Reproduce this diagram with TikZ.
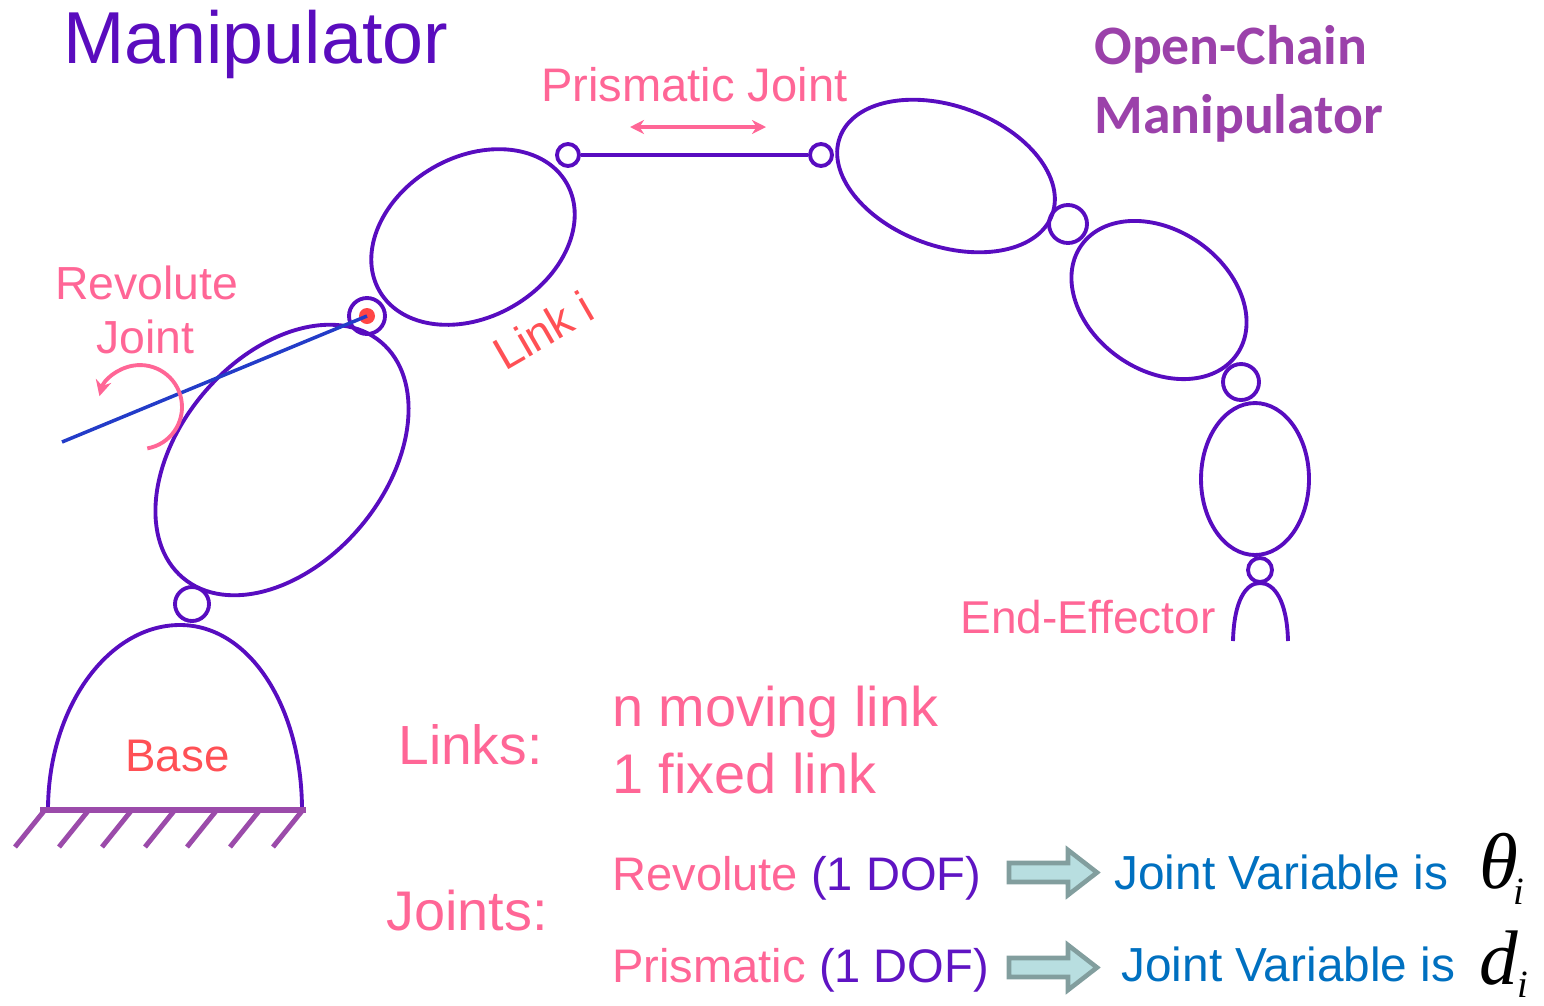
\documentclass[tikz,border=0pt]{standalone}
\usepackage{fontspec}
\setmainfont{Liberation Sans}
\newfontfamily\calibfont{Carlito}
\newfontfamily\serifit{Liberation Serif}
\usetikzlibrary{shapes.geometric,arrows.meta}

\definecolor{linkc}{RGB}{88,12,192}
\definecolor{titlec}{RGB}{90,12,190}
\definecolor{openc}{RGB}{155,65,170}
\definecolor{pinkc}{RGB}{255,102,150}
\definecolor{redc}{RGB}{255,80,85}
\definecolor{dofc}{RGB}{95,20,195}
\definecolor{bluec}{RGB}{0,112,192}
\definecolor{axisc}{RGB}{35,60,200}
\definecolor{groundc}{RGB}{155,75,170}
\definecolor{dotc}{RGB}{255,70,70}
\definecolor{arrfill}{RGB}{184,222,224}
\definecolor{arrdraw}{RGB}{130,158,158}

\newcommand{\fs}[1]{\fontsize{#1}{#1}\selectfont}

\begin{document}
\begin{tikzpicture}[x=0.02cm,y=-0.02cm,
  linkpart/.style={draw=linkc, line width=2.2pt, ellipse, inner sep=0pt},
  jointpart/.style={draw=linkc, line width=2.2pt, circle, inner sep=0pt},
  linkline/.style={draw=linkc, line width=2.2pt},
  lbl/.style={inner sep=0pt, anchor=base west},
  fatarrow/.style={fill=arrfill, draw=arrdraw, line width=2.6pt, line join=miter}]
\useasboundingbox (0,0) rectangle (1544,1005);

% links of the chain
\node[linkpart, minimum width=6.16cm, minimum height=4.12cm, rotate=50] (L0) at (282,460) {};
\node[linkpart, minimum width=4.32cm, minimum height=3.2cm, rotate=30] (L1) at (473,237) {};
\node[linkpart, minimum width=4.52cm, minimum height=2.8cm, rotate=-20] (L2) at (946,176) {};
\node[linkpart, minimum width=3.8cm, minimum height=2.8cm, rotate=-35] (L3) at (1159,300) {};
\node[linkpart, minimum width=2.16cm, minimum height=3.04cm] (L4) at (1255,479) {};

% joints
\node[jointpart, minimum size=0.68cm] (J0) at (192,604) {};
\node[jointpart, minimum size=0.72cm] (J1) at (367,316) {};
\node[jointpart, minimum size=0.44cm] (J2) at (568,155) {};
\node[jointpart, minimum size=0.44cm] (J3) at (821,155) {};
\node[jointpart, minimum size=0.76cm] (J4) at (1068,224) {};
\node[jointpart, minimum size=0.72cm] (J5) at (1241,382) {};
\node[jointpart, minimum size=0.48cm] (J6) at (1260,570) {};

% prismatic slide bar
\draw[linkline] (J2) -- (J3);

% revolute axis and its rotation sense
\node[circle, fill=dotc, inner sep=0pt, minimum size=0.32cm] (rdot) at (367,316) {};
\coordinate (axisend) at (62,442);
\draw[axisc, line width=2pt] (axisend) -- (rdot.center);
\coordinate (rotstart) at (147.3,448.4);
\draw[pinkc, line width=2.2pt, -{Stealth[length=9pt,width=9pt]}]
  (rotstart) arc[start angle=-80, end angle=165, radius=0.84cm];

% prismatic motion arrow
\coordinate (pa) at (630,127);
\coordinate (pb) at (766,127);
\draw[pinkc, line width=2pt, {Stealth[length=8pt,width=8pt]}-{Stealth[length=8pt,width=8pt]}] (pa) -- (pb);

% base and ground
\coordinate (bl) at (48,810);
\coordinate (br) at (302,810);
\draw[linkline] (bl) .. controls (48,708) and (108,625) .. (180,625)
                     .. controls (250,625) and (302,708) .. (br);
\coordinate (gl) at (40,810);
\coordinate (gr) at (306,810);
\draw[groundc, line width=3.4pt] (gl) -- (gr);
\foreach \hx in {44,88,131,174,216,259,302}
  \draw[groundc, line width=2.8pt] (\hx,811) -- ++(-29,36);

% end-effector gripper
\coordinate (el) at (1233,641);
\coordinate (er) at (1288,641);
\draw[linkline] (el) .. controls (1234,600) and (1246,583) .. (1260,583)
                     .. controls (1274,583) and (1287,600) .. (er);

% labels on the manipulator
\node[lbl, titlec, font=\fs{41.9}] (title) at (63,63) {Manipulator};
\node[lbl, openc, font=\calibfont\bfseries\fs{31.7}] (oc1) at (1094,64) {Open-Chain};
\node[lbl, openc, font=\calibfont\bfseries\fs{31.7}] (oc2) at (1094,133) {Manipulator};
\node[lbl, pinkc, font=\fs{26.8}] (pj) at (541,101) {Prismatic Joint};
\node[lbl, pinkc, font=\fs{26.4}] (rj1) at (55,299) {Revolute};
\node[lbl, pinkc, font=\fs{26.4}] (rj2) at (96,353) {Joint};
\node[inner sep=0pt, redc, font=\fs{26}, rotate=30] (linki) at (543,330) {Link i};
\node[lbl, redc, font=\fs{26}] (basel) at (125,771) {Base};
\node[lbl, pinkc, font=\fs{26.2}] (ee) at (960,633) {End-Effector};

% summary text
\node[lbl, pinkc, font=\fs{31.4}] (links) at (398,764) {Links:};
\node[lbl, pinkc, font=\fs{31.8}] (nmov) at (612,726) {n moving link};
\node[lbl, pinkc, font=\fs{31.8}] (nfix) at (612,793) {1 fixed link};
\node[lbl, pinkc, font=\fs{31.8}] (joints) at (386,930) {Joints:};
\node[lbl, font=\fs{26.8}] (rev) at (612,890) {\textcolor{pinkc}{Revolute} \textcolor{dofc}{(1 DOF)}};
\node[lbl, font=\fs{26.8}] (pri) at (612,982) {\textcolor{pinkc}{Prismatic} \textcolor{dofc}{(1 DOF)}};

% implication arrows
\draw[fatarrow] (1009,863) -- (1068,863) -- (1068,850) -- (1097,872.5)
  -- (1068,895) -- (1068,882) -- (1009,882) -- cycle;
\draw[fatarrow] (1009,958) -- (1068,958) -- (1068,945) -- (1097,967.5)
  -- (1068,990) -- (1068,977) -- (1009,977) -- cycle;

\node[lbl, bluec, font=\fs{27.2}] (jv1) at (1114,889) {Joint Variable is};
\node[lbl, bluec, font=\fs{27.2}] (jv2) at (1121,981) {Joint Variable is};
\node[lbl, font=\serifit\itshape\fs{45}] (theta) at (1479,888) {θ};
\node[lbl, font=\serifit\itshape\fs{22}] (thetai) at (1513,904) {i};
\node[lbl, font=\serifit\itshape\fs{44}] (dvar) at (1479,984) {d};
\node[lbl, font=\serifit\itshape\fs{22}] (di) at (1517,997) {i};
\end{tikzpicture}
\end{document}
